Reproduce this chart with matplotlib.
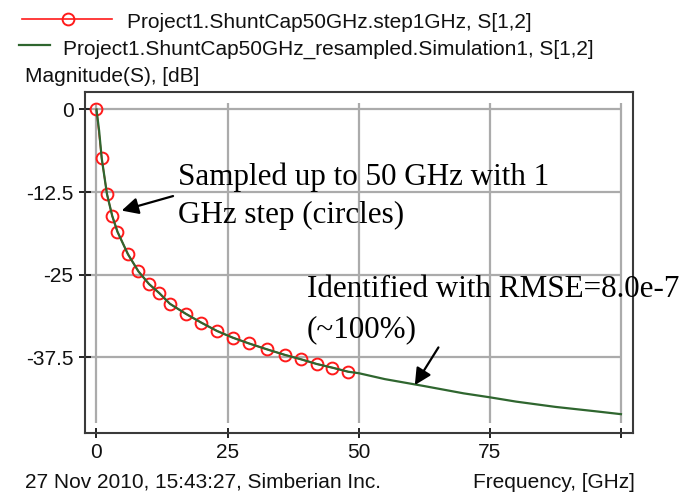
import matplotlib
matplotlib.use("Agg")
import matplotlib.pyplot as plt
from matplotlib.lines import Line2D

# ---- data ----
circle_freq = [0, 1, 2, 3, 4, 6, 8, 10, 12, 14, 17, 20, 23, 26, 29, 32.5, 36, 39, 42, 45, 48]
circle_db = [0, -7.4, -12.8, -16.1, -18.5, -21.9, -24.5, -26.4, -27.8, -29.4, -30.9,
             -32.26, -33.52, -34.53, -35.38, -36.29, -37.15, -37.8, -38.51, -39.07, -39.68]

fit_freq = [0, 0.5, 1, 2, 3, 4, 6, 8, 10, 12, 14, 17, 20, 23, 26, 29, 32.5, 36, 39, 42, 45, 48,
            50, 55, 62.5, 70, 75, 80, 87.5, 95, 100]
fit_db = [0, -3.2, -7.4, -12.8, -16.1, -18.5, -21.9, -24.5, -26.4, -27.8, -29.4, -30.9,
          -32.26, -33.52, -34.53, -35.38, -36.29, -37.15, -37.8, -38.51, -39.07, -39.68,
          -39.9, -40.8, -41.85, -42.95, -43.55, -44.2, -45.0, -45.65, -46.1]

x_ticks = [0, 25, 50, 75, 100]
x_tick_labels = ["0", "25", "50", "75", ""]
y_ticks = [0, -12.5, -25, -37.5]
y_tick_labels = ["0", "-12.5", "-25", "-37.5"]

legend_labels = ["Project1.ShuntCap50GHz.step1GHz, S[1,2]",
                 "Project1.ShuntCap50GHz_resampled.Simulation1, S[1,2]"]
y_title = "Magnitude(S), [dB]"
x_title = "Frequency, [GHz]"
footer = "27 Nov 2010, 15:43:27, Simberian Inc."
note1 = ["Sampled up to 50 GHz with 1", "GHz step (circles)"]
note2 = ["Identified with RMSE=8.0e-7", "(~100%)"]

RED = "#ff1a1a"
GREEN = "#2f662f"
GRID = "#ababab"
SPINE = "#3a3a3a"
SANS = ["Liberation Sans", "DejaVu Sans"]
SERIF = ["Liberation Serif", "DejaVu Serif"]
W, H = 700, 495

def fx(px):
    return px / W

def fy(py):
    return 1 - py / H

fig = plt.figure(figsize=(7, 4.95), dpi=100)
ax = fig.add_axes([fx(85), fy(433), (633 - 85) / W, (433 - 91.7) / H])
ax.set_xlim(-2.19, 102.3)
ax.set_ylim(-48.95, 2.69)

# grid (limited to the data area like the original)
ax.vlines(x_ticks, -47.4, 0.94, colors=GRID, lw=1.6, zorder=1)
ax.hlines(y_ticks, -2.19, 100, colors=GRID, lw=1.6, zorder=1)

# series
ax.plot(circle_freq, circle_db, color=RED, lw=1.2, marker="o", markersize=8.5,
        markerfacecolor="none", markeredgecolor=RED, markeredgewidth=1.4, zorder=3)
ax.plot(fit_freq, fit_db, color=GREEN, lw=1.6, zorder=4)

for s in ax.spines.values():
    s.set_color(SPINE)
    s.set_linewidth(1.5)

ax.set_xticks(x_ticks)
ax.set_xticklabels(x_tick_labels)
ax.set_yticks(y_ticks)
ax.set_yticklabels(y_tick_labels)
ax.tick_params(axis="y", direction="inout", length=8, width=1.4, color="#222222",
               labelsize=15, pad=4.2)
ax.tick_params(axis="x", direction="inout", length=7.2, width=1.4, color="#222222",
               labelsize=15, pad=3.6)
for lab in ax.get_xticklabels() + ax.get_yticklabels():
    lab.set_family(SANS)
    lab.set_color("#111111")

# annotations
arrow_style = dict(arrowstyle="-|>", color="k", lw=1.6, mutation_scale=25,
                   shrinkA=0, shrinkB=0)
ax.annotate("", xy=(4.8, -15.3), xytext=(14.6, -13.1), arrowprops=arrow_style, zorder=6)
ax.annotate("", xy=(60.7, -41.7), xytext=(65.2, -36.0), arrowprops=arrow_style, zorder=6)
ax.text(15.6, -11.43, note1[0], family=SERIF, fontsize=22.4, va="baseline", zorder=7)
ax.text(15.6, -17.25, note1[1], family=SERIF, fontsize=22.4, va="baseline", zorder=7)
ax.text(40.1, -28.42, note2[0], family=SERIF, fontsize=22.4, va="baseline", zorder=7)
ax.text(40.1, -34.43, note2[1], family=SERIF, fontsize=22.4, va="baseline", zorder=7)

# legend (drawn above the plot like the original)
fig.add_artist(Line2D([fx(22), fx(112)], [fy(19), fy(19)], color=RED, lw=1.2))
fig.add_artist(Line2D([fx(68.3)], [fy(19)], color=RED, marker="o", markersize=8.5,
                      markerfacecolor="none", markeredgewidth=1.4))
fig.add_artist(Line2D([fx(19), fx(50)], [fy(45.3), fy(45.3)], color=GREEN, lw=1.6))
fig.text(fx(126.7), fy(28.5), legend_labels[0], family=SANS, fontsize=15, va="baseline",
         color="#111111")
fig.text(fx(63), fy(54.5), legend_labels[1], family=SANS, fontsize=15, va="baseline",
         color="#111111")
fig.text(fx(25), fy(81.7), y_title, family=SANS, fontsize=15, va="baseline", color="#111111")
fig.text(fx(25), fy(488), footer, family=SANS, fontsize=15, va="baseline", color="#111111")
fig.text(fx(473), fy(488), x_title, family=SANS, fontsize=15, va="baseline", color="#111111")

fig.savefig("out.png", dpi=100)
